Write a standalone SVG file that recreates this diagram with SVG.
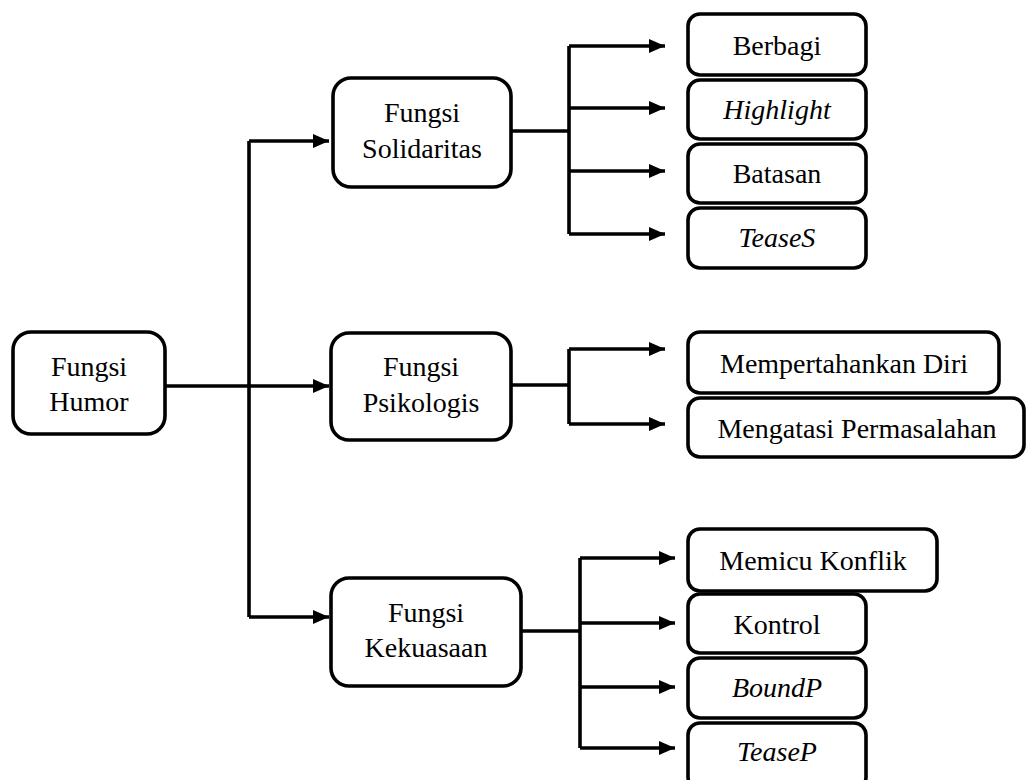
<svg xmlns="http://www.w3.org/2000/svg" width="1028" height="780" viewBox="0 0 1028 780">
  <style>
    .box { fill: #fff; stroke: #000; stroke-width: 3.6; }
    .wire { fill: none; stroke: #000; stroke-width: 3.6; }
    .arrow { fill: none; stroke: #000; stroke-width: 3.6; marker-end: url(#head); }
    .lbl { font-family: 'Times New Roman', 'Liberation Serif', Tinos, 'DejaVu Serif', serif; font-size: 28px; fill: #000; text-anchor: middle; }
    .it { font-style: italic; }
  </style>
  <defs>
    <marker id="head" viewBox="0 0 16 14" refX="16" refY="7" markerWidth="16" markerHeight="14" markerUnits="userSpaceOnUse" orient="auto">
      <path d="M0,0 L16,7 L0,14 z" fill="#000"/>
    </marker>
  </defs>
  <rect width="1028" height="780" fill="#fff"/>

  <!-- connectors -->
  <g id="connectors">
    <path class="wire" d="M165,386 H249"/>
    <path class="arrow" d="M249,386 H329"/>
    <path class="wire" d="M249,141 V617"/>
    <path class="arrow" d="M249,141 H329"/>
    <path class="arrow" d="M249,617 H329"/>

    <path class="wire" d="M511,131 H569"/>
    <path class="wire" d="M569,46 V234"/>
    <path class="arrow" d="M569,46 H665"/>
    <path class="arrow" d="M569,108 H665"/>
    <path class="arrow" d="M569,171 H665"/>
    <path class="arrow" d="M569,234 H665"/>

    <path class="wire" d="M511,385 H569"/>
    <path class="wire" d="M569,349 V424"/>
    <path class="arrow" d="M569,349 H665"/>
    <path class="arrow" d="M569,424 H665"/>

    <path class="wire" d="M521,631 H580"/>
    <path class="wire" d="M580,558 V748"/>
    <path class="arrow" d="M580,558 H675"/>
    <path class="arrow" d="M580,623 H675"/>
    <path class="arrow" d="M580,687 H675"/>
    <path class="arrow" d="M580,748 H675"/>
  </g>

  <!-- root -->
  <g id="fungsi-humor">
    <rect class="box" x="13" y="332" width="152" height="102" rx="18"/>
    <text class="lbl" x="89" y="376">Fungsi</text>
    <text class="lbl" x="89" y="411">Humor</text>
  </g>

  <!-- second level -->
  <g id="fungsi-solidaritas">
    <rect class="box" x="333" y="78" width="178" height="109" rx="18"/>
    <text class="lbl" x="422" y="122">Fungsi</text>
    <text class="lbl" x="422" y="158">Solidaritas</text>
  </g>
  <g id="fungsi-psikologis">
    <rect class="box" x="331" y="333" width="180" height="107" rx="18"/>
    <text class="lbl" x="421" y="376">Fungsi</text>
    <text class="lbl" x="421" y="412">Psikologis</text>
  </g>
  <g id="fungsi-kekuasaan">
    <rect class="box" x="331" y="578" width="190" height="108" rx="18"/>
    <text class="lbl" x="426" y="622">Fungsi</text>
    <text class="lbl" x="426" y="657">Kekuasaan</text>
  </g>

  <!-- leaves: solidaritas -->
  <g id="berbagi">
    <rect class="box" x="688" y="14" width="178" height="61" rx="12"/>
    <text class="lbl" x="777" y="55">Berbagi</text>
  </g>
  <g id="highlight">
    <rect class="box" x="688" y="80" width="178" height="59" rx="12"/>
    <text class="lbl it" x="777" y="119">Highlight</text>
  </g>
  <g id="batasan">
    <rect class="box" x="688" y="144" width="178" height="59" rx="12"/>
    <text class="lbl" x="777" y="183">Batasan</text>
  </g>
  <g id="teases">
    <rect class="box" x="688" y="208" width="178" height="60" rx="12"/>
    <text class="lbl it" x="777" y="247">TeaseS</text>
  </g>

  <!-- leaves: psikologis -->
  <g id="mempertahankan-diri">
    <rect class="box" x="688" y="332" width="311" height="61" rx="12"/>
    <text class="lbl" x="844" y="373">Mempertahankan Diri</text>
  </g>
  <g id="mengatasi-permasalahan">
    <rect class="box" x="688" y="398" width="336" height="59" rx="12"/>
    <text class="lbl" x="857" y="438">Mengatasi Permasalahan</text>
  </g>

  <!-- leaves: kekuasaan -->
  <g id="memicu-konflik">
    <rect class="box" x="688" y="529" width="249" height="62" rx="12"/>
    <text class="lbl" x="813" y="570">Memicu Konflik</text>
  </g>
  <g id="kontrol">
    <rect class="box" x="688" y="594" width="178" height="59" rx="12"/>
    <text class="lbl" x="777" y="634">Kontrol</text>
  </g>
  <g id="boundp">
    <rect class="box" x="688" y="658" width="178" height="60" rx="12"/>
    <text class="lbl it" x="777" y="697">BoundP</text>
  </g>
  <g id="teasep">
    <rect class="box" x="688" y="723" width="178" height="66" rx="12"/>
    <text class="lbl it" x="777" y="761">TeaseP</text>
  </g>
</svg>
